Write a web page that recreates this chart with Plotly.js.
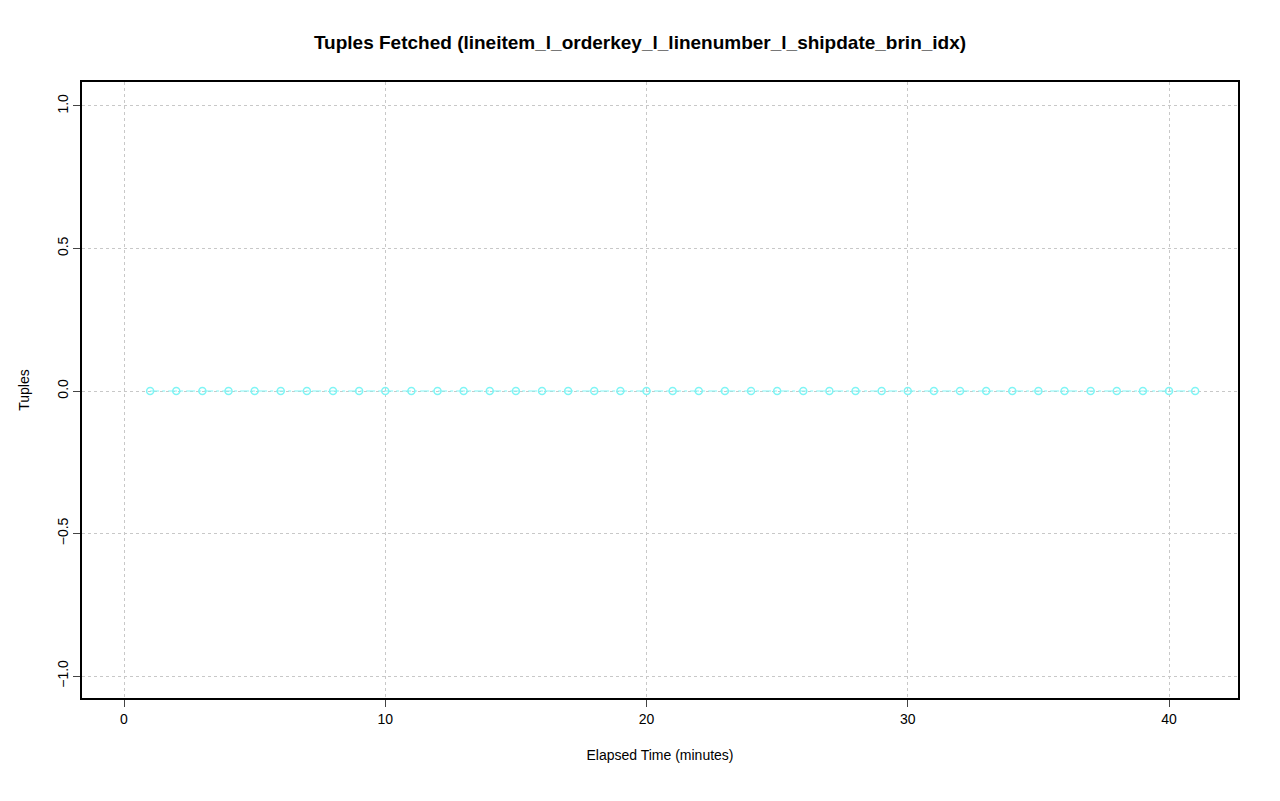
<!DOCTYPE html>
<html>
<head>
<meta charset="utf-8">
<script src="https://cdn.plot.ly/plotly-3.0.1.min.js"></script>
<style>body{margin:0;background:#fff}</style>
</head>
<body>
<div id="plot" style="width:1280px;height:801px"></div>
<script>
// elapsed minutes and tuples fetched
var minutes = [1,2,3,4,5,6,7,8,9,10,11,12,13,14,15,16,17,18,19,20,21,22,23,24,25,26,27,28,29,30,31,32,33,34,35,36,37,38,39,40,41];
var tuples = [0,0,0,0,0,0,0,0,0,0,0,0,0,0,0,0,0,0,0,0,0,0,0,0,0,0,0,0,0,0,0,0,0,0,0,0,0,0,0,0,0];

var trace1 = {
  x: minutes,
  y: tuples,
  mode: "lines+markers",
  type: "scatter",
  line: {color: "#7ff5f5", width: 1, dash: "dashdot"},
  marker: {symbol: "circle-open", size: 7, color: "#7ff5f5", line: {width: 1.5}}
};

var layout = {
  width: 1280, height: 801,
  margin: {l: 82, r: 42, t: 82, b: 103},
  paper_bgcolor: "#fff", plot_bgcolor: "#fff",
  font: {family: "Liberation Sans, Arial, sans-serif", size: 14, color: "#000"},
  title: {text: "<b>Tuples Fetched (lineitem_l_orderkey_l_linenumber_l_shipdate_brin_idx)</b>",
          x: 0.5, y: 0.955, font: {size: 19}},
  showlegend: false,
  xaxis: {
    range: [-1.608, 42.64], tickvals: [0,10,20,30,40], ticks: "outside", ticklen: 7,
    showline: true, mirror: true, linecolor: "#000", linewidth: 1.5, zeroline: false,
    gridcolor: "#c8c8c8", griddash: "dot",
    title: {text: "Elapsed Time (minutes)", standoff: 25, font: {size: 14}}
  },
  yaxis: {
    range: [-1.077, 1.084], tickvals: [-1,-0.5,0,0.5,1], ticktext: ["\u22121.0","\u22120.5","0.0","0.5","1.0"],
    tickangle: -90, ticks: "outside", ticklen: 7,
    showline: true, mirror: true, linecolor: "#000", linewidth: 1.5, zeroline: false,
    gridcolor: "#c8c8c8", griddash: "dot",
    title: {text: "Tuples", standoff: 22, font: {size: 14}}
  }
};

Plotly.newPlot("plot", [trace1], layout, {displayModeBar: false});
</script>
</body>
</html>
